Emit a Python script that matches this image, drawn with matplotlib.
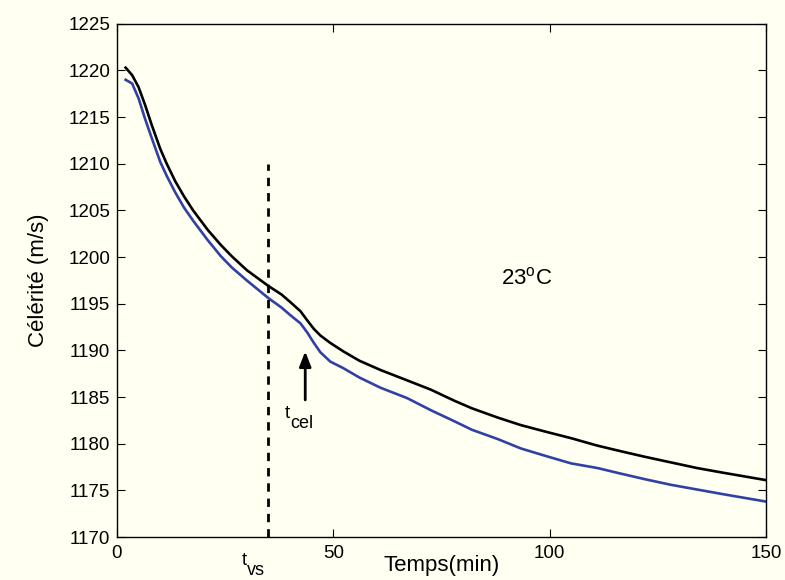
import matplotlib
matplotlib.use('Agg')
import matplotlib.pyplot as plt

plt.rcParams['font.family'] = ['Liberation Sans', 'DejaVu Sans']
plt.rcParams['mathtext.fontset'] = 'custom'
plt.rcParams['mathtext.rm'] = 'Liberation Sans'
plt.rcParams['mathtext.it'] = 'Liberation Sans'

# time (min)
t = [2, 3.5, 5, 6.5, 8, 10, 11.5, 13.5, 15.5, 17.6, 21, 24, 26.5, 30, 35,
     38, 40, 42.4, 44, 45.5, 47, 49.3, 52.3, 56, 60.9, 67, 72.5, 78, 82, 88,
     93.3, 99, 104.9, 111, 116.4, 122, 128, 134, 140, 145, 150]

# celerity (m/s), black curve
cel_black = [1220.3, 1219.5, 1218.2, 1216.3, 1214.2, 1211.6, 1210.0, 1208.1,
             1206.5, 1205.0, 1202.9, 1201.3, 1200.1, 1198.6, 1196.9, 1196.0,
             1195.2, 1194.2, 1193.2, 1192.3, 1191.6, 1190.8, 1189.9, 1188.9,
             1187.9, 1186.8, 1185.8, 1184.6, 1183.8, 1182.8, 1182.0, 1181.3,
             1180.6, 1179.8, 1179.2, 1178.6, 1178.0, 1177.4, 1176.9, 1176.5,
             1176.1]

# celerity (m/s), blue curve
cel_blue = [1219.0, 1218.6, 1217.0, 1214.8, 1212.8, 1210.2, 1208.7, 1206.9,
            1205.3, 1203.9, 1201.8, 1200.1, 1198.9, 1197.5, 1195.6, 1194.6,
            1193.8, 1192.9, 1191.9, 1190.8, 1189.8, 1188.8, 1188.1, 1187.1,
            1186.0, 1184.9, 1183.6, 1182.4, 1181.5, 1180.5, 1179.5, 1178.7,
            1177.9, 1177.4, 1176.8, 1176.2, 1175.6, 1175.1, 1174.6, 1174.2,
            1173.8]

t_vs = 35
t_cel = 43.5

bg = '#fffff2'
fig = plt.figure(figsize=(7.85, 5.8), dpi=100, facecolor=bg)
ax = fig.add_axes([0.149, 0.074, 0.827, 0.885], facecolor=bg)

ax.plot(t, cel_black, color='black', lw=1.9)
ax.plot(t, cel_blue, color='#3040a6', lw=1.9)

# vertical dashed line at t_vs
ax.plot([t_vs, t_vs], [1170, 1210], color='black', lw=2, ls=(0, (3, 2.5)))

# arrow for t_cel
ax.annotate('', xy=(t_cel, 1189.9), xytext=(t_cel, 1184.7),
            arrowprops=dict(arrowstyle='-|>,head_length=0.9,head_width=0.35',
                            color='black', lw=2, shrinkA=0, shrinkB=0))


def sub_label(x, y, main, sub):
    # MATLAB-like subscript: nearly full size, shifted down
    ax.text(x, y, main, fontsize=13.5, ha='left', va='baseline', clip_on=False)
    ax.annotate(sub, xy=(x, y), xytext=(4, -7), textcoords='offset points',
                fontsize=13, ha='left', va='baseline', annotation_clip=False)


sub_label(38.8, 1182.75, 't', 'cel')
sub_label(28.85, 1167.0, 't', 'vs')

ax.text(88.7, 1197.1, r'23$^{\mathregular{o}}$C', fontsize=16,
        ha='left', va='baseline')

ax.set_xlim(0, 150)
ax.set_ylim(1170, 1225)
ax.set_xticks([0, 50, 100, 150])
ax.set_yticks(range(1170, 1226, 5))
ax.tick_params(direction='in', length=5.5, labelsize=13.5, top=True,
               right=True, width=0.8)
ax.tick_params(axis='x', pad=6)
ax.tick_params(axis='y', pad=5)
for s in ax.spines.values():
    s.set_linewidth(1.0)

ax.set_xlabel('Temps(min)', fontsize=16, labelpad=-5)
ax.set_ylabel('Célérité (m/s)', fontsize=16, labelpad=14)

fig.savefig('out.png', dpi=100, facecolor=bg)
